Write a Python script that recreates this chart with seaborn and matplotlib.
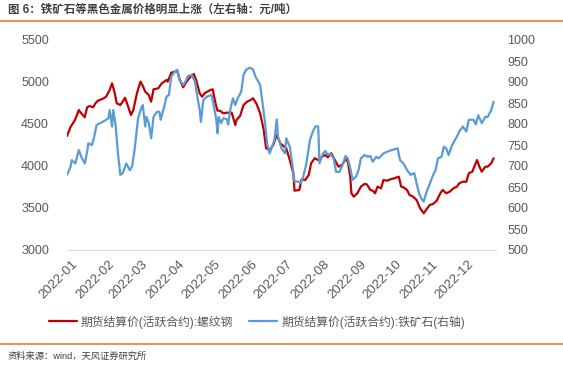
import pandas as pd
import matplotlib
matplotlib.use("Agg")
import matplotlib.pyplot as plt
import matplotlib.dates as mdates
from matplotlib.ticker import MultipleLocator
import matplotlib.transforms as mtrans
import seaborn as sns

# --- data (day = days after 2022-01-01) ---
rebar_day = [0, 3, 5, 7, 10, 12, 15, 17, 19, 22, 24, 26, 31, 33, 36, 38, 40, 42, 45, 47,
             49, 52, 54, 56, 59, 62, 64, 66, 69, 71, 73, 77, 80, 84, 85, 88, 91, 93, 95, 98,
             100, 103, 107, 109, 112, 114, 116, 121, 123, 125, 127, 129, 132, 135, 139, 142, 143, 146, 149, 152,
             155, 157, 160, 163, 166, 168, 171, 174, 177, 180, 185, 188, 191, 192, 196, 198, 201, 204, 206, 209,
             212, 215, 218, 220, 223, 226, 229, 232, 235, 237, 239, 240, 242, 245, 248, 251, 253, 256, 258, 260,
             262, 265, 267, 270, 273, 276, 280, 282, 284, 287, 289, 292, 295, 298, 301, 303, 306, 309, 312, 315,
             317, 320, 323, 326, 329, 331, 334, 337, 339, 342, 346, 348, 350, 353, 355, 358, 360]
rebar = [4357, 4464, 4508, 4556, 4667, 4627, 4580, 4699, 4714, 4699, 4746, 4777, 4806, 4825, 4905, 4984, 4885, 4746, 4726, 4766,
         4813, 4687, 4607, 4667, 4865, 5004, 4952, 4885, 4845, 4766, 4913, 4925, 4984, 5024, 5004, 5111, 5123, 5135, 5032, 4937,
         4984, 5044, 5095, 5024, 4865, 4825, 4865, 4905, 4913, 4766, 4658, 4658, 4627, 4635, 4635, 4488, 4548, 4595, 4726, 4766,
         4786, 4806, 4738, 4627, 4429, 4211, 4190, 4250, 4369, 4270, 4211, 4071, 3913, 3706, 3714, 3842, 3833, 3893, 4032, 4092,
         4071, 4111, 4131, 4104, 4151, 4071, 3992, 4012, 4080, 4052, 3873, 3675, 3635, 3675, 3754, 3786, 3782, 3714, 3706, 3675,
         3754, 3734, 3833, 3825, 3842, 3853, 3873, 3754, 3746, 3714, 3655, 3635, 3595, 3496, 3437, 3476, 3536, 3548, 3587, 3675,
         3714, 3675, 3695, 3734, 3754, 3794, 3813, 3813, 3913, 3932, 4071, 3992, 3932, 3992, 3992, 4032, 4092]

ore_day = [0, 3, 4, 7, 10, 12, 15, 17, 18, 21, 23, 25, 28, 32, 35, 36, 38, 39, 41, 43,
           45, 47, 50, 53, 55, 57, 60, 63, 64, 66, 67, 69, 71, 73, 76, 78, 79, 82, 84, 86,
           88, 91, 93, 95, 98, 100, 102, 105, 108, 110, 112, 113, 115, 118, 122, 124, 126, 127, 128, 130,
           132, 135, 136, 138, 140, 142, 144, 147, 149, 151, 154, 157, 159, 163, 165, 167, 169, 171, 174, 175,
           177, 178, 181, 184, 185, 188, 190, 192, 195, 197, 199, 202, 205, 208, 210, 212, 213, 216, 218, 220,
           222, 225, 227, 230, 233, 235, 237, 239, 241, 244, 246, 248, 251, 254, 256, 258, 261, 263, 267, 272,
           279, 281, 284, 287, 290, 293, 295, 297, 299, 301, 303, 306, 309, 311, 313, 316, 318, 320, 322, 325,
           329, 331, 334, 337, 339, 343, 345, 347, 350, 353, 355, 358, 360]
ore = [679, 698, 714, 706, 738, 722, 706, 734, 754, 750, 770, 798, 802, 808, 814, 833, 794, 833, 798, 730,
       679, 683, 706, 690, 700, 738, 814, 841, 845, 794, 817, 802, 766, 817, 829, 829, 810, 841, 865, 869,
       913, 925, 929, 905, 893, 901, 914, 917, 901, 865, 833, 805, 857, 865, 869, 841, 810, 778, 817, 802,
       814, 811, 799, 837, 861, 845, 861, 877, 917, 929, 934, 930, 913, 893, 849, 806, 750, 730, 754, 762,
       811, 770, 742, 730, 766, 746, 706, 663, 663, 659, 671, 706, 762, 786, 795, 794, 706, 730, 736, 726,
       730, 718, 686, 686, 706, 724, 718, 695, 667, 675, 690, 718, 726, 722, 724, 710, 722, 718, 730, 736,
       742, 714, 706, 690, 679, 683, 659, 635, 623, 615, 635, 657, 679, 690, 718, 722, 746, 742, 726, 750,
       770, 782, 794, 782, 810, 810, 799, 821, 802, 817, 817, 833, 853]

title = "图 6：铁矿石等黑色金属价格明显上涨（左右轴：元/吨）"
rebar_label = "期货结算价(活跃合约):螺纹钢"
ore_label = "期货结算价(活跃合约):铁矿石(右轴)"
source = "资料来源：wind，天风证券研究所"

start = pd.Timestamp("2022-01-01")
rebar_df = pd.DataFrame({"date": start + pd.to_timedelta(rebar_day, unit="D"), "price": rebar})
ore_df = pd.DataFrame({"date": start + pd.to_timedelta(ore_day, unit="D"), "price": ore})

sns.set_style("white")
plt.rcParams["font.family"] = ["Liberation Sans", "Noto Sans CJK SC", "DejaVu Sans"]

grey = "#595959"
orange = "#ED7D31"

fig = plt.figure(figsize=(5.63, 3.65), dpi=100)
ax = fig.add_axes([67 / 563, 115 / 365, 429 / 563, 210 / 365])
ax2 = ax.twinx()

sns.lineplot(data=rebar_df, x="date", y="price", ax=ax, color="#C00000", linewidth=1.6, label=rebar_label, legend=False)
sns.lineplot(data=ore_df, x="date", y="price", ax=ax2, color="#5B9BD5", linewidth=1.6, label=ore_label, legend=False)

ax.set_ylim(3000, 5500)
ax.yaxis.set_major_locator(MultipleLocator(500))
ax2.set_ylim(500, 1000)
ax2.yaxis.set_major_locator(MultipleLocator(50))
ax.set_xlim(start, start + pd.Timedelta(days=362))
ax.xaxis.set_major_locator(mdates.MonthLocator())
ax.xaxis.set_major_formatter(mdates.DateFormatter("%Y-%m"))

for a in (ax, ax2):
    a.set_xlabel("")
    a.set_ylabel("")
    for s in a.spines.values():
        s.set_visible(False)
    a.grid(False)
ax.spines["bottom"].set_visible(True)
ax.spines["bottom"].set_color("#d9d9d9")

ax.tick_params(axis="x", colors="#d9d9d9", length=4, width=0.8, direction="out", labelcolor=grey, labelsize=9.5, pad=2)
ax.tick_params(axis="y", length=0, labelcolor=grey, labelsize=9, pad=13)
ax2.tick_params(axis="y", length=0, labelcolor=grey, labelsize=9, pad=8)
shift = mtrans.ScaledTranslation(5 / 100, 0, fig.dpi_scale_trans)
for lbl in ax.get_xticklabels():
    lbl.set_rotation(45)
    lbl.set_ha("right")
    lbl.set_rotation_mode("anchor")
    lbl.set_transform(lbl.get_transform() + shift)

h1, l1 = ax.get_legend_handles_labels()
h2, l2 = ax2.get_legend_handles_labels()
fig.legend(h1 + h2, l1 + l2, loc="center", bbox_to_anchor=(0.456, 0.118), ncol=2, frameon=False,
           fontsize=8.5, labelcolor=grey, handlelength=2.4, columnspacing=1.3, handletextpad=0.35)

fig.text(8 / 563, 1 - 10 / 365, title, fontsize=8.3, fontweight="bold", color="#404040", va="center", ha="left")
fig.add_artist(plt.Line2D([0, 1], [1 - 21 / 365, 1 - 21 / 365], color=orange, linewidth=1.2))
fig.add_artist(plt.Line2D([0, 1], [1 - 344 / 365, 1 - 344 / 365], color=orange, linewidth=1.2))
fig.text(8 / 563, 1 - 356 / 365, source, fontsize=6.7, color="#404040", va="center", ha="left")

fig.savefig("out.png", dpi=100)
